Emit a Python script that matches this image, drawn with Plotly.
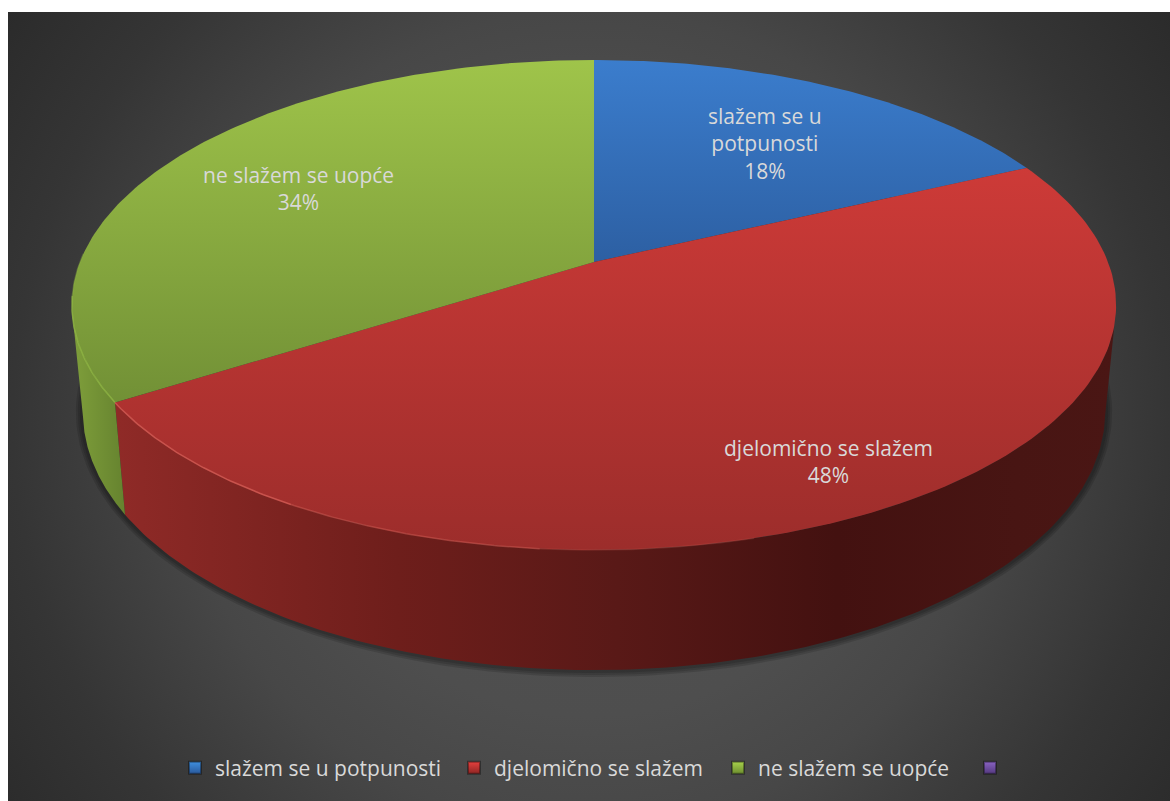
import numpy as np
import plotly.graph_objects as go

categories = ["slažem se u potpunosti", "djelomično se slažem", "ne slažem se uopće"]
values = [18, 48, 34]
label_lines = ["slažem se u<br>potpunosti", "djelomično se slažem", "ne slažem se uopće"]
legend_names = categories + [" "]
legend_top = ["#3f8fe0", "#e8403e", "#a8d24c", "#8a63c4"]
legend_bot = ["#2a5a9c", "#8f2624", "#6e8f30", "#553a80"]
legend_left = [175, 454, 718, 970]

FONT = "Open Sans"
TXT = "#d9d9d9"
CX, Y0, A, B, K = 594.0, 262.0, 514.0, 237.5, -0.1755
T_RIGHT, T_LEFT = 101, 259


def top_pt(t):
    t = np.radians(t)
    u, v = np.sin(t), -np.cos(t)
    d = 1 + K * v
    return CX + A * u / d, Y0 + B * v / d


def bot_pt(t):
    x, y = top_pt(t)
    return CX + (x - CX) * 0.979, 412 + (y - 305) * 258 / 245


def arc(fn, t0, t1, n=160):
    return fn(np.linspace(t0, t1, n))


fig = go.Figure()


def poly(x, y, grad=None, color=None):
    kw = dict(fillgradient=grad) if grad else dict(fillcolor=color)
    fig.add_trace(go.Scatter(x=list(x), y=list(y), mode="lines", fill="toself", line=dict(width=0),
                             showlegend=False, hoverinfo="skip", **kw))


# background: a big square clipped by the plot area, so the radial gradient stays circular
R = 760
poly([590 - R, 590 + R, 590 + R, 590 - R, 590 - R], [420 - R, 420 - R, 420 + R, 420 + R, 420 - R],
     grad=dict(type="radial", colorscale=[[0, "#525252"], [0.39, "#4e4e4e"], [0.54, "#474747"],
                                          [0.76, "#353535"], [0.95, "#2a2a2a"], [1, "#282828"]]))

# soft shadow under the pie
for grow in (7, 5, 3):
    tt = np.linspace(0, 360, 240)
    x, y = bot_pt(tt)
    poly(CX + (x - CX) * (1 + grow / 511), 412 + (y - 412) * (1 + grow / 258), color="rgba(0,0,0,0.13)")

edges = np.cumsum([0] + values) * 3.6

# side walls
bx, by = arc(top_pt, T_RIGHT, edges[2])
cx, cy = arc(bot_pt, T_RIGHT, edges[2])
poly(np.r_[bx, cx[::-1]], np.r_[by, cy[::-1]],
     grad=dict(type="horizontal", start=118, stop=1116,
               colorscale=[[0, "#8f2a27"], [0.28, "#6e1e1b"], [0.5, "#591917"], [0.72, "#431110"],
                           [0.9, "#481513"], [1, "#4a1614"]]))
bx, by = arc(top_pt, edges[2], T_LEFT)
cx, cy = arc(bot_pt, edges[2], T_LEFT)
poly(np.r_[bx, cx[::-1]], np.r_[by, cy[::-1]],
     grad=dict(type="horizontal", start=72, stop=128, colorscale=[[0, "#7f9f3b"], [1, "#64812e"]]))

# top faces
face_stops = [("#3b7dcd", "#183566"), ("#db3e3b", "#9c2d2b"), ("#9fc44a", "#5e7a2d")]
for i in range(3):
    x, y = arc(top_pt, edges[i], edges[i + 1])
    c0, c1 = face_stops[i]
    poly(np.r_[CX, x, CX], np.r_[Y0, y, Y0],
         grad=dict(type="vertical", start=60, stop=550, colorscale=[[0, c0], [1, c1]]))


def edge_line(t0, t1, color, w):
    x, y = arc(top_pt, t0, t1, 60)
    fig.add_trace(go.Scatter(x=x, y=y, mode="lines", line=dict(color=color, width=w),
                             showlegend=False, hoverinfo="skip"))


edge_line(165, 185, "rgba(201,83,77,0.25)", 1.5)
edge_line(185, 210, "rgba(201,83,77,0.6)", 1.5)
edge_line(210, edges[2], "#c9534d", 1.5)
edge_line(edges[2], 262, "rgba(144,183,67,0.8)", 1.5)
edge_line(262, 272, "rgba(144,183,67,0.35)", 1.5)

# legend entries, one legend each so that each sits where the reference has it
legend_layout = {}
for i, (n, c0, c1, left) in enumerate(zip(legend_names, legend_top, legend_bot, legend_left)):
    key = "legend" if i == 0 else f"legend{i + 1}"
    fig.add_trace(go.Scatter(x=[None], y=[None], mode="markers", name=n, legend=key,
                             marker=dict(symbol="square", size=16, color=c0,
                                         gradient=dict(type="vertical", color=c1),
                                         line=dict(width=1, color="rgba(0,0,0,0.35)"))))
    legend_layout[key] = dict(orientation="h", x=left / 1170, y=0.0412, xanchor="left", yanchor="middle",
                              font=dict(family=FONT, size=21, color=TXT), bgcolor="rgba(0,0,0,0)",
                              itemsizing="constant", itemwidth=30)

label_pos = [(765, 143), (828, 461), (298, 188)]
for name, v, (x, y) in zip(label_lines, values, label_pos):
    fig.add_annotation(x=x, y=y, text=f"{name}<br>{v}%", showarrow=False, xanchor="center", yanchor="middle",
                       font=dict(family=FONT, size=21, color=TXT))

fig.update_layout(
    width=1170, height=801, margin=dict(l=0, r=0, t=0, b=0), autosize=False,
    paper_bgcolor="white", plot_bgcolor="white",
    xaxis=dict(domain=[8 / 1170, 1], range=[8, 1170], visible=False, fixedrange=True),
    yaxis=dict(domain=[0, 1 - 12 / 801], range=[801, 12], visible=False, fixedrange=True),
    showlegend=True,
    **legend_layout,
)
fig.write_html("out.html", config={"displayModeBar": False},
               post_script="document.body.style.margin='0';document.body.style.overflow='hidden';")
